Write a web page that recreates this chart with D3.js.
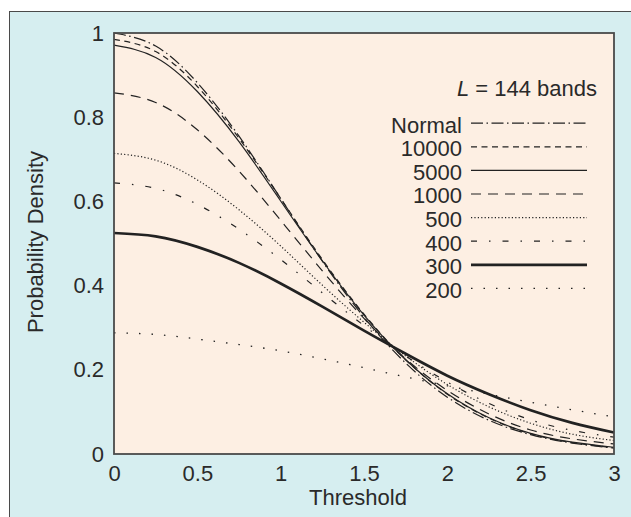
<!DOCTYPE html>
<html lang="en">
<head>
  <meta charset="UTF-8">
  <title>Probability Density</title>
  <script src="https://cdn.jsdelivr.net/npm/d3@7"></script>
  <style>
    body { margin: 0; background: #fff; }
    svg text {
      font-family: "Liberation Sans", Arial, sans-serif;
      font-size: 22px;
      fill: #2a2a2a;
    }
    .curve { fill: none; stroke: #222; }
  </style>
</head>
<body>
  <script>
    // data
    const thresholds = [0, 0.25, 0.5, 0.75, 1, 1.25, 1.5, 1.75, 2, 2.25, 2.5, 2.75, 3];
    const normal = [1.0, 0.969, 0.882, 0.755, 0.607, 0.458, 0.325, 0.216, 0.135, 0.080, 0.046, 0.026, 0.014];
    const s10000 = [0.985, 0.956, 0.873, 0.750, 0.607, 0.462, 0.332, 0.224, 0.142, 0.085, 0.048, 0.027, 0.015];
    const s5000 = [0.971, 0.942, 0.861, 0.742, 0.601, 0.459, 0.330, 0.224, 0.143, 0.086, 0.049, 0.028, 0.016];
    const s1000 = [0.858, 0.835, 0.770, 0.672, 0.555, 0.435, 0.322, 0.226, 0.151, 0.095, 0.057, 0.036, 0.024];
    const s500 = [0.714, 0.698, 0.651, 0.580, 0.494, 0.401, 0.313, 0.233, 0.165, 0.112, 0.073, 0.047, 0.032];
    const s400 = [0.644, 0.631, 0.593, 0.534, 0.462, 0.383, 0.305, 0.233, 0.171, 0.120, 0.081, 0.056, 0.040];
    const s300 = [0.525, 0.517, 0.492, 0.454, 0.405, 0.350, 0.293, 0.238, 0.186, 0.142, 0.104, 0.074, 0.051];
    const s200 = [0.288, 0.284, 0.273, 0.260, 0.245, 0.226, 0.205, 0.183, 0.162, 0.142, 0.123, 0.105, 0.088];
    const seriesNames = ['Normal', '10000', '5000', '1000', '500', '400', '300', '200'];
    const xTicks = [0, 0.5, 1, 1.5, 2, 2.5, 3];
    const yTicks = [0, 0.2, 0.4, 0.6, 0.8, 1];

    const seriesValues = [normal, s10000, s5000, s1000, s500, s400, s300, s200];
    // line styles per series (same order as seriesNames)
    const dashes = ['12,3.5,1.5,3.5', '6,4.5', null, '10,7', '1.2,2.2', '6,12,1.5,12', null, '1.5,11'];
    const widths = [1.2, 1.2, 1.2, 1.2, 1.2, 1.2, 2.7, 1.3];

    const width = 631, height = 517;
    const svg = d3.select('body').append('svg')
      .attr('width', width)
      .attr('height', height);

    // outer panel
    svg.append('rect')
      .attr('x', 9.5).attr('y', 11.5)
      .attr('width', 700).attr('height', 600)
      .attr('fill', '#d6eef0')
      .attr('stroke', '#4a4a4a')
      .attr('stroke-width', 1);

    const x = d3.scaleLinear().domain([0, 3]).range([114, 614]);
    const y = d3.scaleLinear().domain([0, 1]).range([454, 33]);

    // plot area
    svg.append('rect')
      .attr('x', x(0)).attr('y', y(1))
      .attr('width', x(3) - x(0)).attr('height', y(0) - y(1))
      .attr('fill', '#fdefe3');

    const line = d3.line()
      .x((d, i) => x(thresholds[i]))
      .y(d => y(d))
      .curve(d3.curveNatural);

    svg.selectAll('.curve')
      .data(seriesValues)
      .enter()
      .append('path')
      .attr('class', 'curve')
      .attr('d', d => line(d))
      .attr('stroke-width', (d, i) => widths[i])
      .attr('stroke-dasharray', (d, i) => dashes[i]);

    // frame
    svg.append('rect')
      .attr('x', x(0)).attr('y', y(1))
      .attr('width', x(3) - x(0)).attr('height', y(0) - y(1))
      .attr('fill', 'none')
      .attr('stroke', '#4a4a4a')
      .attr('stroke-width', 1.8);

    // axes
    const xAxis = d3.axisBottom(x)
      .tickValues(xTicks)
      .tickSize(0)
      .tickPadding(11)
      .tickFormat(d => String(d));
    const gx = svg.append('g')
      .attr('transform', `translate(0,${y(0)})`)
      .call(xAxis);
    gx.select('.domain').remove();

    const yAxis = d3.axisLeft(y)
      .tickValues(yTicks)
      .tickSize(0)
      .tickPadding(10)
      .tickFormat(d => String(d));
    const gy = svg.append('g')
      .attr('transform', `translate(${x(0)},0)`)
      .call(yAxis);
    gy.select('.domain').remove();

    // axis titles
    svg.append('text')
      .attr('x', 358).attr('y', 505)
      .attr('text-anchor', 'middle')
      .text('Threshold');
    svg.append('text')
      .attr('transform', 'translate(43,242) rotate(-90)')
      .attr('text-anchor', 'middle')
      .text('Probability Density');

    // legend
    const title = svg.append('text')
      .attr('x', 597).attr('y', 96)
      .attr('text-anchor', 'end');
    title.append('tspan').attr('font-style', 'italic').text('L');
    title.append('tspan').text(' = 144 bands');

    const legend = svg.selectAll('.legend')
      .data(seriesNames)
      .enter()
      .append('g')
      .attr('class', 'legend')
      .attr('transform', (d, i) => `translate(0,${132.5 + i * 23.6})`);
    legend.append('text')
      .attr('x', 462)
      .attr('text-anchor', 'end')
      .text(d => d);
    legend.append('line')
      .attr('x1', 471).attr('x2', 587)
      .attr('y1', -9.3).attr('y2', -9.3)
      .attr('stroke', '#222')
      .attr('stroke-width', (d, i) => widths[i])
      .attr('stroke-dasharray', (d, i) => dashes[i]);
  </script>
</body>
</html>
